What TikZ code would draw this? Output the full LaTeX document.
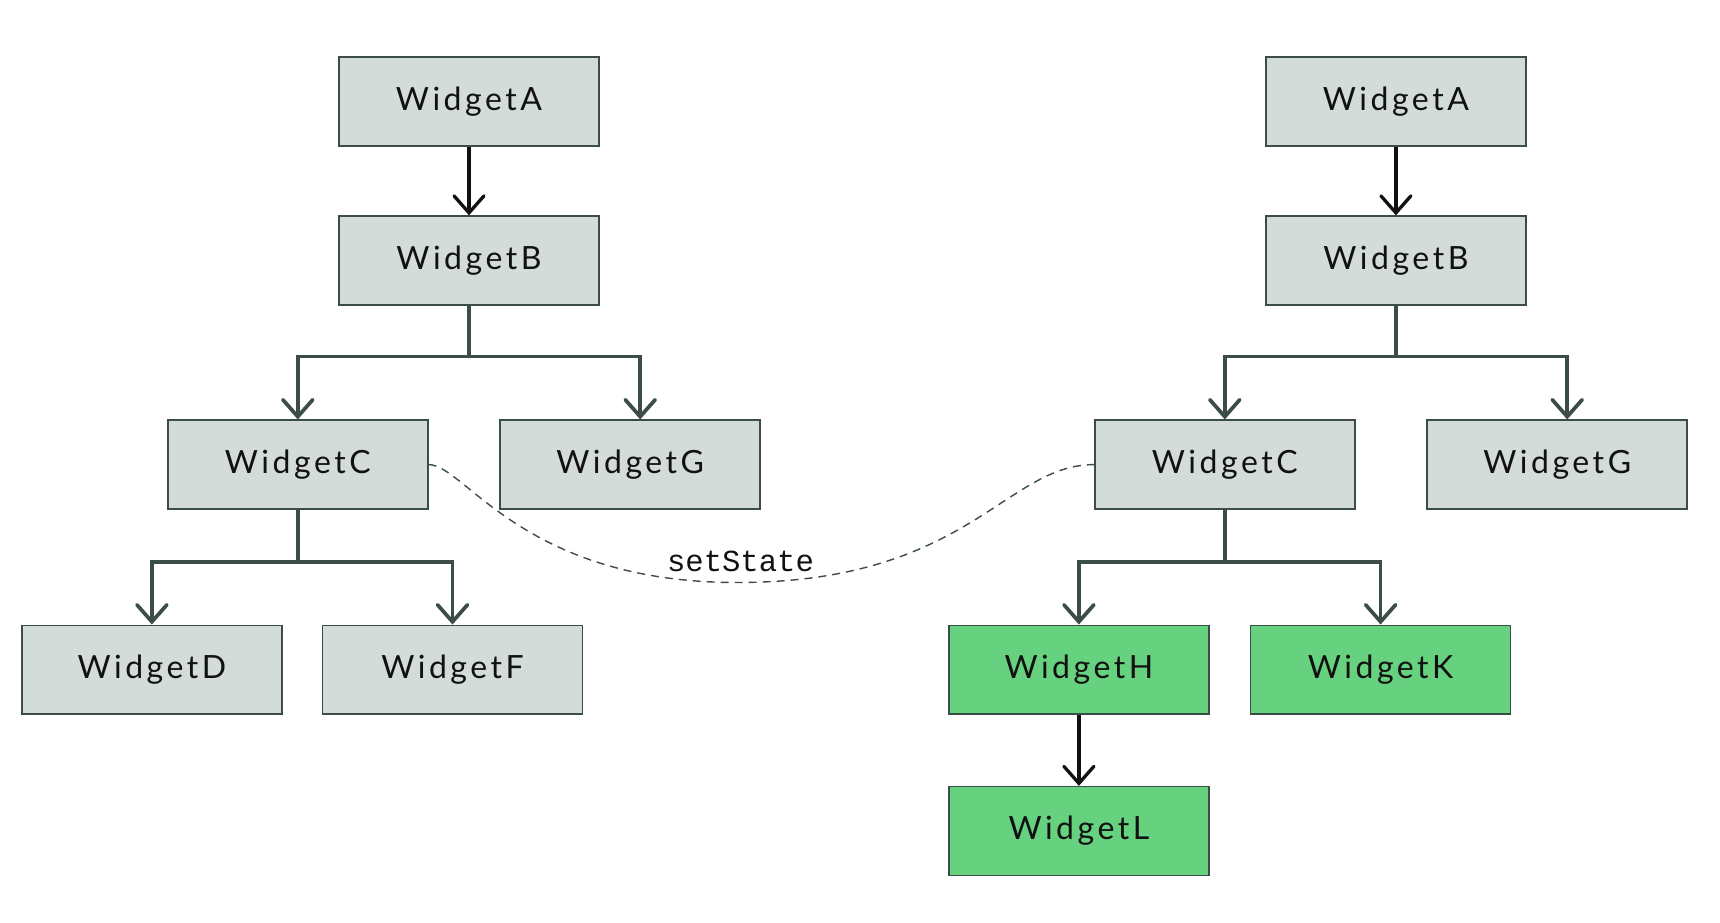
\documentclass[tikz,border=0pt]{standalone}
\usepackage{fontspec}
\setmainfont{Lato}[LetterSpace=11]
\newfontfamily\codefont{Liberation Mono}
\usetikzlibrary{arrows.meta,calc}
\definecolor{boxfill}{HTML}{D4DCDA}
\definecolor{boxgreen}{HTML}{66D17F}
\definecolor{edge}{HTML}{3C4C47}
\definecolor{ink}{HTML}{111111}
\tikzset{
  widget/.style={draw=edge, line width=0.75pt, fill=boxfill, minimum width=130pt, minimum height=44.4pt, inner sep=0pt, font=\fontsize{16}{19}\selectfont, text=ink},
  hot/.style={widget, fill=boxgreen},
  tip/.style={-{Straight Barb[length=8.5pt,width=15pt,line cap=round]}},
  conn/.style={tip, draw=edge, line width=1.85pt},
  blackconn/.style={tip, draw=ink, line width=1.65pt},
  msg/.style={draw=edge, line width=0.7pt, dash pattern=on 4pt off 3pt},
  msglabel/.style={font=\codefont\fontsize{15.3}{18}\selectfont, text=ink, inner sep=0pt}
}
\begin{document}
\begin{tikzpicture}[x=0.5pt,y=-0.5pt]
\useasboundingbox (0,0) rectangle (1720,922);
% left tree
\node[widget] (lA) at (469.0,101.5) {WidgetA};
\node[widget] (lB) at (469.0,260.5) {WidgetB};
\node[widget] (lC) at (297.8,464.6) {WidgetC};
\node[widget] (lG) at (630.2,464.6) {WidgetG};
\node[widget] (lD) at (151.9,669.7) {WidgetD};
\node[widget] (lF) at (452.5,669.7) {WidgetF};
% right tree
\node[widget] (rA) at (1395.9,101.5) {WidgetA};
\node[widget] (rB) at (1395.9,260.5) {WidgetB};
\node[widget] (rC) at (1224.8,464.6) {WidgetC};
\node[widget] (rG) at (1557.2,464.6) {WidgetG};
\node[hot] (rH) at (1078.9,669.7) {WidgetH};
\node[hot] (rK) at (1380.6,669.7) {WidgetK};
\node[hot] (rL) at (1078.9,831.0) {WidgetL};
% junctions
\coordinate (lBj) at (469.0,356.5);
\coordinate (lCj) at (297.8,561.7);
\coordinate (rBj) at (1395.9,356.5);
\coordinate (rCj) at (1224.8,561.7);
\coordinate (lGin) at ($(lG.north)+(10,0)$);
\coordinate (rGin) at ($(rG.north)+(10,0)$);
% connectors
\draw[blackconn] (lA.south) -- (lB.north);
\draw[blackconn] (rA.south) -- (rB.north);
\draw[conn] (lB.south) -- (lBj) -| (lC.north);
\draw[conn] (lBj) -| (lGin);
\draw[conn] (lC.south) -- (lCj) -| (lD.north);
\draw[conn] (lCj) -| (lF.north);
\draw[conn] (rB.south) -- (rBj) -| (rC.north);
\draw[conn] (rBj) -| (rGin);
\draw[conn] (rC.south) -- (rCj) -| (rH.north);
\draw[conn] (rCj) -| (rK.north);
\draw[blackconn] (rH.south) -- (rL.north);
% setState
\coordinate (mid) at (737,582.5);
\draw[msg] (lC.east) .. controls (465,464.6) and (522,582.5) .. (mid)
  .. controls (968,582.5) and (1005,464.6) .. (rC.west);
\node[msglabel] (lbl) at (740.5,561.5) {setState};
\end{tikzpicture}
\end{document}
